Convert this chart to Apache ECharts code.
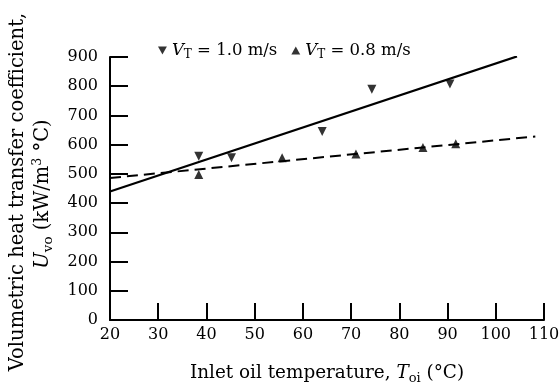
<!DOCTYPE html>
<html>
<head>
<meta charset="utf-8">
<script src="https://cdn.jsdelivr.net/npm/echarts@6/dist/echarts.min.js"></script>
<style>
  html, body { margin: 0; padding: 0; background: #fff; }
  #main { width: 559px; height: 389px; }
</style>
</head>
<body>
<div id="main"></div>
<script>
// measured points, V_T = 1.0 m/s (down triangles)
var tempFast = [38.4, 45.2, 64.0, 74.3, 90.5];
var uFast = [560, 555, 645, 790, 808];
// measured points, V_T = 0.8 m/s (up triangles)
var tempSlow = [38.4, 55.7, 71.0, 84.9, 91.7];
var uSlow = [498, 555, 568, 590, 603];
// fitted lines (end points)
var fitFastX = [20, 104.4];
var fitFastY = [440, 902];
var fitSlowX = [20, 108.2];
var fitSlowY = [486, 628];
// axis ticks
var xTicks = [20, 30, 40, 50, 60, 70, 80, 90, 100, 110];
var yTicks = [0, 100, 200, 300, 400, 500, 600, 700, 800, 900];

function pairs(xs, ys) {
    var out = [];
    for (var i = 0; i < xs.length; i++) {
        out.push([xs[i], ys[i]]);
    }
    return out;
}

var serif = '"DejaVu Serif", "Liberation Serif", serif';
var myChart = echarts.init(document.getElementById('main'));

var option = {
    animation: false,
    backgroundColor: '#fff',
    textStyle: { fontFamily: serif, color: '#000' },
    grid: { left: 110, right: 15, top: 57, bottom: 69, outerBoundsMode: 'none' },
    legend: {
        top: 37,
        left: 153,
        itemGap: 14,
        itemWidth: 9,
        itemHeight: 8,
        data: [
            { name: 'fast', icon: 'path://M0,0 L10,0 L5,9 Z' },
            { name: 'slow', icon: 'path://M5,0 L10,9 L0,9 Z' }
        ],
        textStyle: {
            fontFamily: serif,
            fontSize: 16,
            color: '#000',
            rich: {
                i: { fontStyle: 'italic', fontSize: 16.5, fontFamily: serif },
                s: { fontSize: 12, fontFamily: serif, padding: [9, 0, 0, 0] },
                t: { fontSize: 16.5, fontFamily: serif }
            }
        },
        formatter: function (name) {
            var v = name === 'fast' ? '1.0' : '0.8';
            return '{i|V}{s|T}{t| = ' + v + ' m/s}';
        }
    },
    graphic: [
        {
            type: 'text',
            x: 18, y: 192,
            rotation: Math.PI / 2,
            style: {
                text: 'Volumetric heat transfer coefficient,',
                font: '19.5px ' + serif,
                fill: '#000',
                align: 'center',
                verticalAlign: 'middle'
            }
        },
        {
            type: 'text',
            x: 43, y: 194,
            rotation: Math.PI / 2,
            style: {
                text: '{i|U}{s|vo}{t| (kW/m}{p|3}{t| °C)}',
                fill: '#000',
                align: 'center',
                verticalAlign: 'middle',
                rich: {
                    i: { fontStyle: 'italic', fontSize: 19.5, fontFamily: serif },
                    s: { fontSize: 13.5, fontFamily: serif, padding: [11, 0, 0, 0] },
                    t: { fontSize: 19.5, fontFamily: serif },
                    p: { fontSize: 12.5, fontFamily: serif, padding: [0, 0, 10, 0] }
                }
            }
        }
    ],
    xAxis: {
        type: 'value',
        min: xTicks[0],
        max: xTicks[xTicks.length - 1],
        interval: 10,
        name: '{t|Inlet oil temperature, }{i|T}{s|oi}{t| (°C)}',
        nameLocation: 'middle',
        nameGap: 41,
        nameTextStyle: {
            rich: {
                i: { fontStyle: 'italic', fontSize: 18.4, fontFamily: serif },
                s: { fontSize: 13, fontFamily: serif, padding: [11, 0, 0, 0] },
                t: { fontSize: 18.4, fontFamily: serif }
            }
        },
        axisLine: { lineStyle: { color: '#000', width: 2 } },
        axisTick: { inside: true, length: 17, lineStyle: { color: '#000', width: 2 } },
        axisLabel: { fontSize: 16, color: '#000', fontFamily: serif, margin: 7 },
        splitLine: { show: false }
    },
    yAxis: {
        type: 'value',
        min: yTicks[0],
        max: yTicks[yTicks.length - 1],
        interval: 100,
        axisLine: { show: true, lineStyle: { color: '#000', width: 2 } },
        axisTick: { show: true, inside: true, length: 18, lineStyle: { color: '#000', width: 2 } },
        axisLabel: { fontSize: 16, color: '#000', fontFamily: serif, margin: 12 },
        splitLine: { show: false }
    },
    series: [
        {
            name: 'fast',
            type: 'scatter',
            symbol: 'triangle',
            symbolRotate: 180,
            symbolSize: 9,
            itemStyle: { color: '#000' },
            data: pairs(tempFast, uFast),
            z: 5
        },
        {
            name: 'slow',
            type: 'scatter',
            symbol: 'triangle',
            symbolSize: 9,
            itemStyle: { color: '#000' },
            data: pairs(tempSlow, uSlow),
            z: 5
        },
        {
            name: 'fitFast',
            type: 'line',
            showSymbol: false,
            symbol: 'none',
            lineStyle: { color: '#000', width: 2.2, type: 'solid' },
            data: pairs(fitFastX, fitFastY)
        },
        {
            name: 'fitSlow',
            type: 'line',
            showSymbol: false,
            symbol: 'none',
            lineStyle: { color: '#000', width: 2, type: [11, 6] },
            data: pairs(fitSlowX, fitSlowY)
        }
    ]
};

myChart.setOption(option);
</script>
</body>
</html>
